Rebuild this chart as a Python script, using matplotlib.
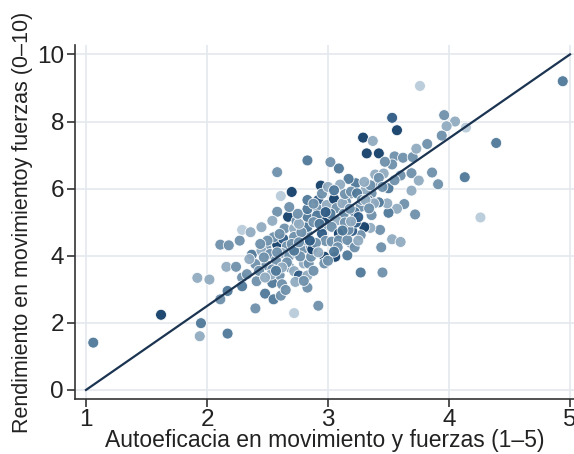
import matplotlib
matplotlib.use("Agg")
import matplotlib.pyplot as plt
from matplotlib.colors import ListedColormap

# autoeficacia (x), rendimiento (y), tono del punto (1 claro .. 6 oscuro)
autoeficacia = [
    1.06, 1.62, 1.95, 1.94, 2.17, 1.92, 2.02, 2.11, 2.17, 2.11,
    2.18, 2.16, 2.24, 2.27, 2.29, 2.36, 2.29, 2.29, 2.40, 2.37,
    2.45, 2.41, 2.48, 2.55, 2.61, 2.72, 2.92, 2.58, 2.61, 2.70,
    2.83, 3.02, 2.94, 3.09, 3.29, 3.37, 3.32, 3.42, 3.53, 3.57,
    3.76, 3.96, 4.05, 3.98, 3.94, 4.14, 4.39, 4.13, 4.26, 4.94,
    3.39, 3.46, 3.55, 3.53, 3.62, 3.70, 3.73, 3.82, 3.60, 3.69,
    3.75, 3.86, 3.91, 3.69, 3.50, 3.63, 3.72, 3.57, 3.50, 3.49,
    3.42, 3.36, 3.31, 3.23, 3.17, 3.53, 3.60, 3.44, 3.43, 3.35,
    3.30, 3.27, 3.36, 3.27, 3.20, 3.23, 3.27, 3.45, 3.40, 3.33,
    3.18, 3.15, 3.22, 3.38, 3.12, 3.25, 3.19, 3.08,
    2.49, 2.45, 2.52, 2.58, 2.63, 2.67, 2.58, 2.54, 2.64, 2.72,
    2.74, 2.72, 2.66, 2.62, 2.68, 2.74, 2.57, 2.49, 2.54, 2.60,
    2.68, 2.72, 2.76, 2.83, 2.73, 2.83, 2.54, 2.53, 2.80, 2.84,
    2.86, 2.80, 2.86, 2.80, 2.87, 2.83, 2.83, 2.83, 2.83, 2.83,
    2.92, 2.92, 2.99, 2.96, 2.95, 2.98, 3.03, 2.97, 3.05, 3.07,
    3.12, 3.13, 3.07, 3.02, 3.03, 3.09, 3.09, 3.08, 2.97, 2.97,
    3.06, 3.16, 3.16, 3.17, 3.14, 3.19, 3.14, 3.10, 3.19, 3.24,
    3.28, 3.31, 3.34, 2.91, 2.88, 2.90, 2.92, 2.78, 2.76, 2.75,
    2.70, 2.77, 2.66, 2.62, 2.55, 2.50, 2.60, 2.40, 2.43, 2.33,
    2.48, 2.62, 2.65, 2.80, 2.88, 3.00, 3.05, 3.22, 3.25, 2.95,
    3.00, 2.88, 3.05, 2.68, 2.72, 3.42, 3.47, 3.35, 3.45, 3.55,
    3.30, 3.12, 3.18, 2.98, 2.93, 2.85, 2.76, 2.58, 2.44, 2.35,
    2.57, 2.47,
]
rendimiento = [
    1.41, 2.24, 1.99, 1.60, 1.68, 3.34, 3.29, 2.70, 2.95, 4.33,
    4.31, 3.67, 3.67, 4.45, 4.77, 4.70, 3.35, 3.09, 2.43, 4.03,
    4.85, 3.24, 2.87, 2.70, 2.81, 2.29, 2.51, 6.49, 5.78, 5.90,
    6.84, 6.79, 6.09, 6.60, 7.52, 7.42, 7.05, 7.05, 8.11, 7.74,
    9.06, 8.19, 8.00, 7.86, 7.58, 7.82, 7.36, 6.34, 5.14, 9.20,
    6.42, 6.45, 6.96, 6.72, 6.92, 6.94, 7.19, 7.33, 6.39, 6.46,
    6.24, 6.48, 6.13, 5.94, 6.01, 5.54, 5.23, 5.40, 5.28, 5.56,
    5.59, 5.86, 5.96, 6.16, 6.29, 4.49, 4.41, 4.25, 4.77, 4.83,
    4.85, 4.61, 5.21, 5.46, 4.74, 4.99, 3.50, 3.50, 6.14, 5.66,
    5.85, 5.60, 5.30, 5.56, 5.20, 5.15, 4.38, 4.46,
    4.23, 4.15, 4.05, 4.33, 4.50, 5.16, 5.31, 5.04, 4.81, 4.81,
    5.03, 4.56, 4.28, 4.08, 4.00, 4.07, 3.87, 3.72, 3.59, 3.42,
    3.66, 3.54, 3.41, 3.41, 3.22, 3.05, 3.19, 3.44, 3.77, 3.77,
    3.97, 4.22, 4.25, 4.46, 4.19, 4.65, 4.86, 5.16, 5.39, 5.66,
    5.66, 5.38, 5.51, 4.86, 4.66, 4.44, 4.42, 5.05, 5.69, 5.42,
    5.56, 5.25, 5.05, 5.25, 4.86, 4.66, 4.46, 4.25, 3.97, 3.77,
    3.97, 4.01, 4.47, 4.77, 4.99, 5.02, 5.84, 6.12, 5.91, 5.86,
    5.66, 5.66, 5.41, 5.20, 5.00, 4.38, 4.10, 4.70, 4.95, 5.25,
    4.35, 3.98, 3.80, 3.65, 4.55, 4.45, 4.65, 3.75, 3.55, 3.45,
    3.35, 3.15, 2.98, 3.25, 3.55, 3.85, 4.12, 4.25, 4.45, 5.85,
    6.05, 5.55, 5.95, 5.45, 4.15, 6.32, 6.80, 6.10, 6.05, 6.25,
    6.20, 4.75, 5.40, 5.30, 4.95, 4.45, 4.40, 4.10, 4.35, 3.90,
    3.55, 3.95,
]
tono = [
    4, 6, 4, 2, 4, 2, 2, 3, 4, 3,
    3, 2, 3, 3, 1, 2, 3, 4, 3, 4,
    2, 3, 4, 4, 3, 1, 3, 3, 1, 6,
    4, 3, 6, 4, 6, 2, 6, 6, 5, 6,
    1, 3, 2, 2, 3, 1, 4, 4, 1, 4,
    2, 2, 3, 3, 3, 3, 2, 3, 3, 3,
    2, 3, 3, 2, 4, 3, 3, 2, 4, 2,
    4, 3, 2, 4, 4, 2, 2, 3, 3, 2,
    6, 3, 3, 3, 5, 5, 4, 3, 3, 4,
    5, 3, 4, 2, 4, 5, 3, 4,
    3, 2, 3, 6, 5, 6, 3, 2, 3, 2,
    3, 3, 3, 2, 3, 2, 3, 3, 3, 3,
    3, 2, 5, 2, 2, 3, 4, 2, 2, 3,
    3, 3, 3, 3, 6, 3, 4, 4, 4, 4,
    5, 3, 2, 3, 5, 3, 3, 6, 6, 3,
    2, 3, 2, 4, 3, 6, 3, 3, 6, 3,
    6, 4, 3, 3, 3, 2, 3, 2, 3, 4,
    3, 2, 3, 4, 3, 3, 2, 3, 2, 3,
    3, 3, 3, 2, 3, 3, 3, 3, 3, 3,
    2, 3, 3, 3, 3, 3, 4, 3, 2, 3,
    2, 3, 4, 3, 4, 3, 3, 3, 3, 3,
    2, 4, 3, 5, 4, 5, 3, 3, 3, 2,
    4, 3,
]

# recta de referencia
recta_x = [1, 5]
recta_y = [0, 10]

paleta = ListedColormap(["#b9ccd9", "#91abc0", "#6f91ac", "#4f7898", "#2e5b84", "#143f69"])

fig = plt.figure(figsize=(5.74, 4.54), dpi=100)
ax = fig.add_axes([75 / 574, 55 / 454, 499 / 574, 354 / 454])

ax.grid(True, color="#e4e9ee", linewidth=1.2, zorder=0)
ax.scatter(autoeficacia, rendimiento, c=tono, cmap=paleta, vmin=0.5, vmax=6.5,
           s=62, edgecolors="white", linewidths=0.6, alpha=0.95, zorder=2)
ax.plot(recta_x, recta_y, color="#1b3451", linewidth=1.6, zorder=3)

ax.set_xlim(0.909, 5.033)
ax.set_ylim(-0.27, 10.28)
ax.set_xticks([1, 2, 3, 4, 5])
ax.set_yticks([0, 2, 4, 6, 8, 10])

for lado in ["top", "right"]:
    ax.spines[lado].set_visible(False)
for lado in ["left", "bottom"]:
    ax.spines[lado].set_color("#333333")
    ax.spines[lado].set_linewidth(1.2)

ax.tick_params(direction="out", length=6, width=1.2, color="#333333",
               labelsize=17.5, labelcolor="#222222", pad=2)
ax.tick_params(axis="x", pad=1)
for lbl in ax.get_xticklabels() + ax.get_yticklabels():
    lbl.set_family("Liberation Sans")

ax.set_xlabel("Autoeficacia en movimiento y fuerzas (1–5)", fontsize=16.5,
              family="Liberation Sans", color="#222222", labelpad=-1)
ax.set_ylabel("Rendimiento en movimientoy fuerzas (0–10)", fontsize=15.5,
              family="Liberation Sans", color="#222222", labelpad=3)

fig.savefig("out.png", dpi=100)
